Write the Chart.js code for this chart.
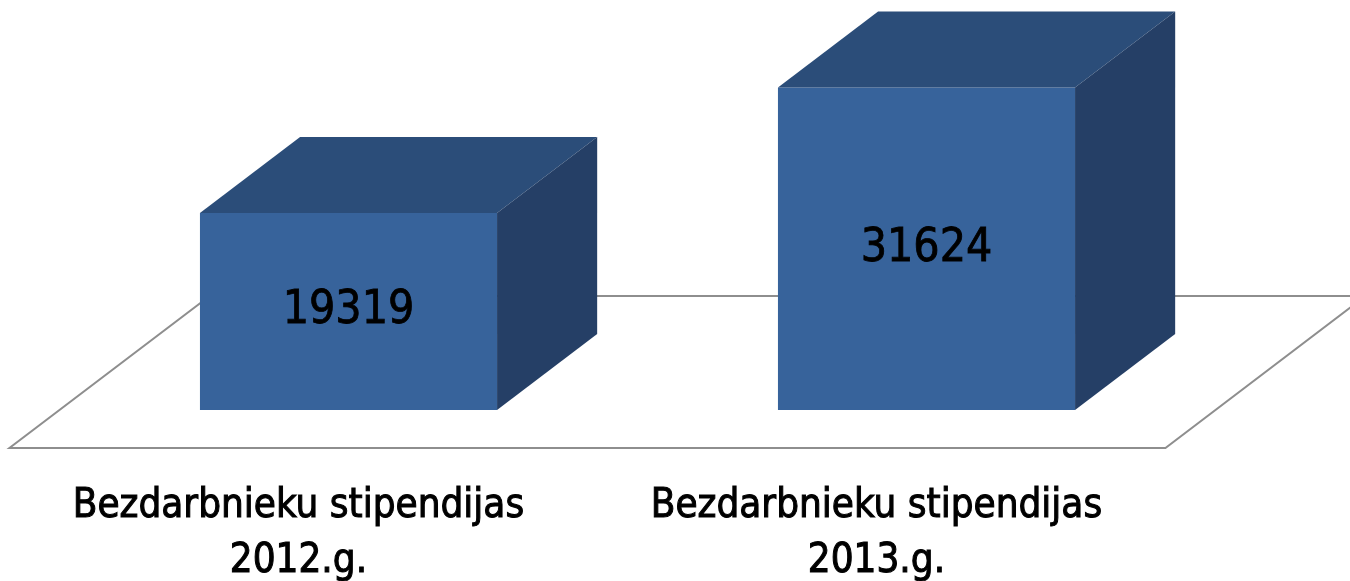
<!DOCTYPE html>
<html>
<head>
<meta charset="utf-8">
<title>Bezdarbnieku stipendijas</title>
<script src="https://cdn.jsdelivr.net/npm/chart.js@4"></script>
<style>
  html, body { margin: 0; padding: 0; background: #ffffff; }
  #wrap { width: 1350px; height: 581px; position: relative; }
</style>
</head>
<body>
<div id="wrap"><canvas id="chart"></canvas></div>
<script>
// dati
const categories = [
  ['Bezdarbnieku stipendijas', '2012.g.'],
  ['Bezdarbnieku stipendijas', '2013.g.']
];
const values = [19319, 31624];
const yMin = 0;
const yMax = 40000;

// krāsas
const frontColor = '#37639b';
const topColor = '#2b4d79';
const sideColor = '#253f66';
const floorColor = '#8e8e8e';
const fontFamily = '"DejaVu Sans Condensed", "DejaVu Sans", sans-serif';

// dziļuma vektors (daļa no stabiņa platuma)
function depthOf(w) {
  return { dx: w * 0.337, dy: -w * 0.256 };
}

// teksts ar nelielu apvilkumu, lai burti būtu treknāki
function boldText(ctx, txt, x, y, sw) {
  ctx.fillText(txt, x, y);
  ctx.lineWidth = sw;
  ctx.strokeStyle = ctx.fillStyle;
  ctx.strokeText(txt, x, y);
}

// 3D grīda, stabiņu sāni un teksti
const box3d = {
  id: 'box3d',
  beforeDatasetsDraw(chart) {
    const ctx = chart.ctx;
    const area = chart.chartArea;
    const meta = chart.getDatasetMeta(0);
    const w = meta.data[0].width;
    const d = depthOf(w);
    const base = chart.scales.y.getPixelForValue(0);
    // grīda: no -0.5 līdz 1.5 dziļumiem
    const fx = -0.5 * d.dx, fy = -0.5 * d.dy;
    const bx = 1.5 * d.dx, by = 1.5 * d.dy;
    ctx.save();
    ctx.strokeStyle = floorColor;
    ctx.lineWidth = 2;
    ctx.beginPath();
    ctx.moveTo(area.left + fx, base + fy);
    ctx.lineTo(area.right + fx, base + fy);
    ctx.lineTo(area.right + bx, base + by);
    ctx.lineTo(area.left + bx, base + by);
    ctx.closePath();
    ctx.stroke();
    ctx.restore();
  },
  afterDatasetsDraw(chart) {
    const ctx = chart.ctx;
    const meta = chart.getDatasetMeta(0);
    ctx.save();
    meta.data.forEach((bar, i) => {
      const w = bar.width;
      const d = depthOf(w);
      const l = bar.x - w / 2, r = bar.x + w / 2;
      const t = bar.y, b = bar.base;
      // augšējā skaldne
      ctx.fillStyle = topColor;
      ctx.beginPath();
      ctx.moveTo(l, t);
      ctx.lineTo(l + d.dx, t + d.dy);
      ctx.lineTo(r + d.dx, t + d.dy);
      ctx.lineTo(r, t);
      ctx.closePath();
      ctx.fill();
      // sānu skaldne
      ctx.fillStyle = sideColor;
      ctx.beginPath();
      ctx.moveTo(r, t);
      ctx.lineTo(r + d.dx, t + d.dy);
      ctx.lineTo(r + d.dx, b + d.dy);
      ctx.lineTo(r, b);
      ctx.closePath();
      ctx.fill();
      // vērtība
      ctx.fillStyle = '#000000';
      ctx.font = '46px ' + fontFamily;
      ctx.textAlign = 'center';
      ctx.textBaseline = 'middle';
      boldText(ctx, String(values[i]), bar.x, (t + b) / 2, 0.8);
    });

    // kategoriju nosaukumi zem grīdas
    const w0 = meta.data[0].width;
    const d0 = depthOf(w0);
    ctx.fillStyle = '#000000';
    ctx.font = '40px ' + fontFamily;
    ctx.textAlign = 'center';
    ctx.textBaseline = 'alphabetic';
    categories.forEach((lines, i) => {
      const x = chart.scales.x.getPixelForValue(i) - 0.5 * d0.dx;
      lines.forEach((txt, j) => {
        boldText(ctx, txt, x, 517 + j * 55, 1);
      });
    });
    ctx.restore();
  }
};

new Chart(document.getElementById('chart'), {
  type: 'bar',
  data: {
    labels: categories.map(c => c.join(' ')),
    datasets: [{
      data: values,
      backgroundColor: frontColor,
      borderWidth: 0,
      barPercentage: 0.514,
      categoryPercentage: 1
    }]
  },
  options: {
    responsive: true,
    maintainAspectRatio: false,
    animation: false,
    layout: {
      padding: { left: 59.5, right: 134.5, top: 2, bottom: 171 }
    },
    plugins: {
      legend: { display: false },
      tooltip: { enabled: false }
    },
    scales: {
      x: { display: false },
      y: { display: false, min: yMin, max: yMax }
    }
  },
  plugins: [box3d]
});
</script>
</body>
</html>
